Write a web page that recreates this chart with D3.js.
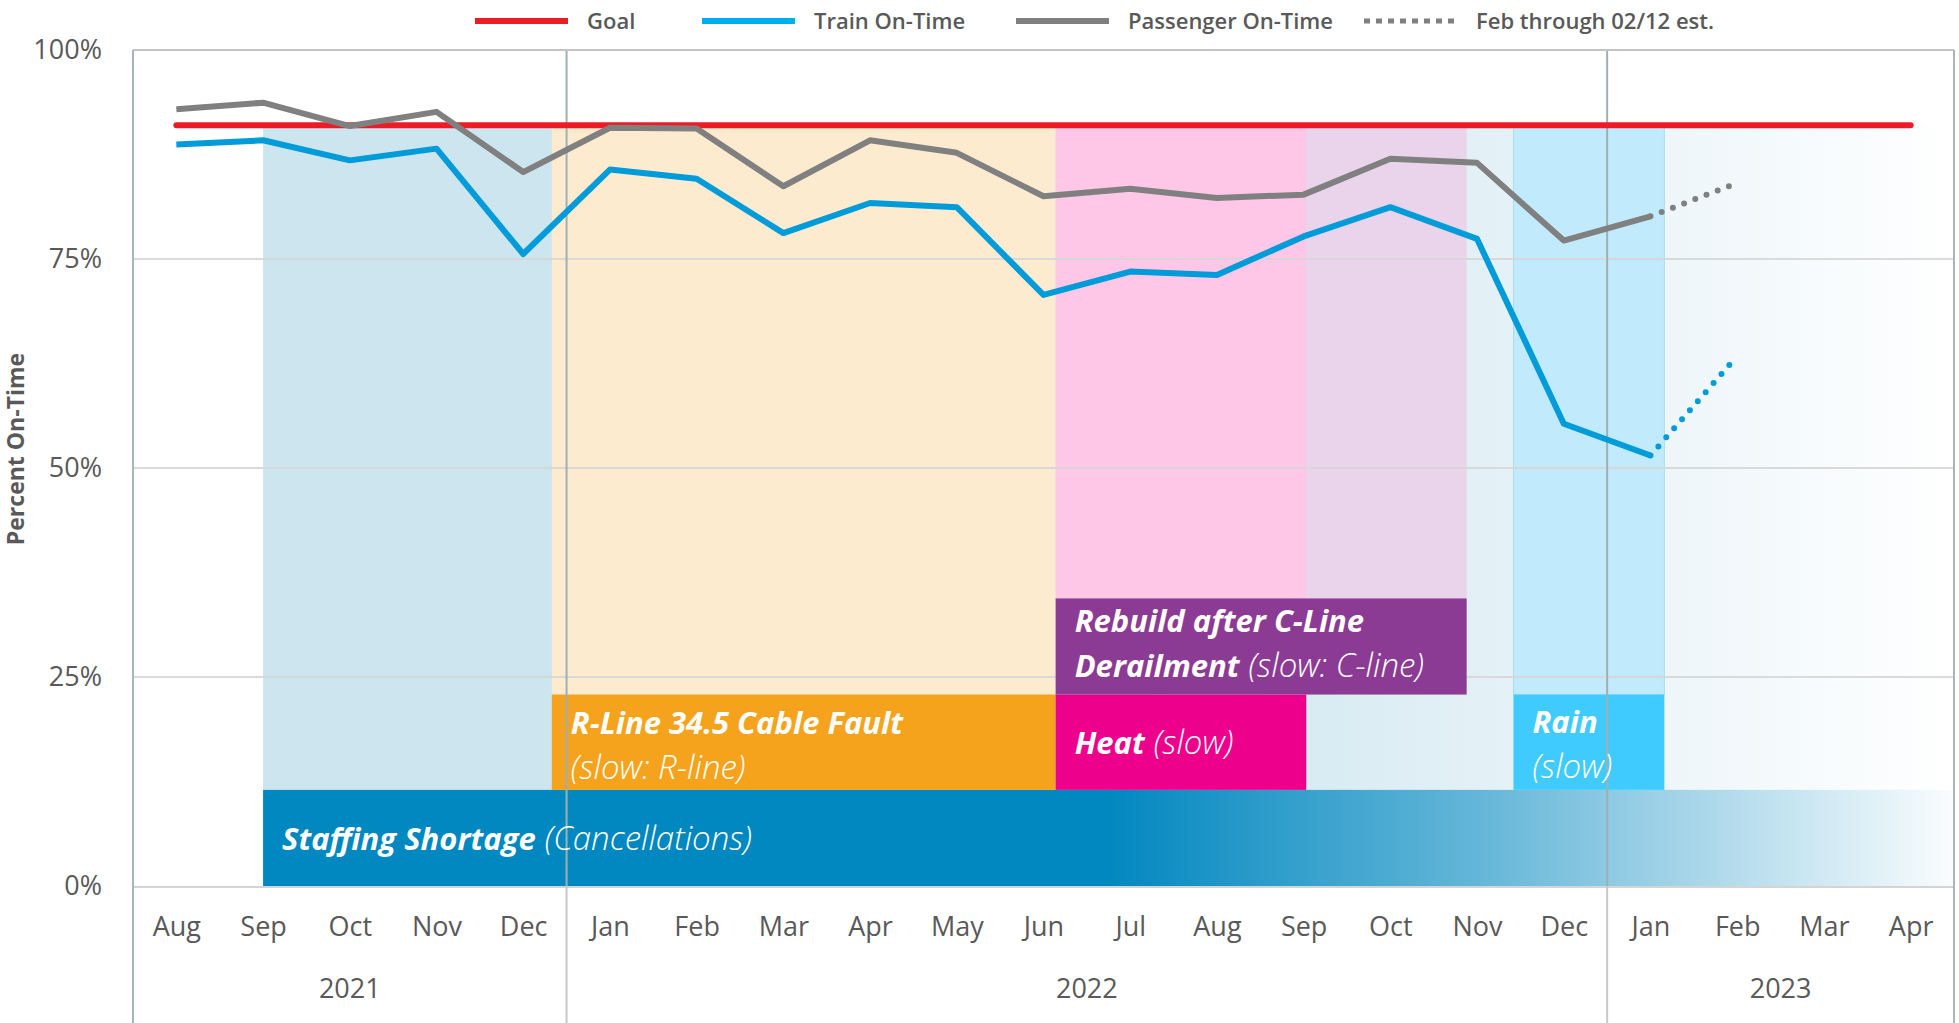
<!DOCTYPE html>
<html>
<head>
<meta charset="utf-8">
<script src="https://cdn.jsdelivr.net/npm/d3@7"></script>
<style>
    body { margin: 0; background: #fff; }
    svg { display: block; font-family: "Open Sans", sans-serif; }
</style>
</head>
<body>
<script>
// categories (Aug 2021 .. Apr 2023)
const months = ['Aug', 'Sep', 'Oct', 'Nov', 'Dec', 'Jan', 'Feb', 'Mar', 'Apr', 'May', 'Jun',
    'Jul', 'Aug', 'Sep', 'Oct', 'Nov', 'Dec', 'Jan', 'Feb', 'Mar', 'Apr'];
const yearLabels = ['2021', '2022', '2023'];
const yearFirst = [0, 5, 17];
const yearLast = [4, 16, 20];

// series, in percent
const goal = 91;
const trainOnTime = [88.7, 89.2, 86.8, 88.2, 75.6, 85.7, 84.6, 78.1, 81.7, 81.2, 70.7,
    73.5, 73.1, 77.7, 81.2, 77.4, 55.3, 51.5];
const passengerOnTime = [92.9, 93.7, 90.9, 92.6, 85.4, 90.7, 90.6, 83.7, 89.2, 87.7, 82.5,
    83.4, 82.3, 82.7, 87.0, 86.5, 77.2, 80.1];
// Feb through 02/12 estimate (index 17 -> 18)
const trainEstimate = [51.5, 63.4];
const passengerEstimate = [80.1, 84.1];
const estimateStart = 17;

const yTicks = [0, 25, 50, 75, 100];
const legendNames = ['Goal', 'Train On-Time', 'Passenger On-Time', 'Feb through 02/12 est.'];

// events: month index span, label box span (percent)
const eventIds = ['staffing', 'rline', 'heat', 'rebuild', 'rain'];
const eventStart = [1.0, 4.33, 10.14, 10.14, 15.42];
const eventEnd = [20.5, 10.14, 13.03, 14.88, 17.16];
const boxLow = [0, 11.5, 11.5, 22.9, 11.5];
const boxHigh = [11.5, 22.9, 22.9, 34.4, 22.9];
const eventLabels = [
    [['Staffing Shortage', '(Cancellations)']],
    [['R-Line 34.5 Cable Fault', ''], ['', '(slow: R-line)']],
    [['Heat', '(slow)']],
    [['Rebuild after C-Line', ''], ['Derailment', '(slow: C-line)']],
    [['Rain', ''], ['', '(slow)']]
];
// light shading regions behind the lines
const shadeIds = ['staffing', 'rline', 'heatShade', 'rebuildShade', 'rain'];
const shadeStart = [1.0, 4.33, 10.14, 13.03, 15.42];
const shadeEnd = [20.5, 10.14, 13.03, 14.88, 17.16];
const shadeLow = [11.5, 22.9, 34.4, 34.4, 22.9];
const shadeHigh = [91, 91, 91, 91, 91];

const width = 1959;
const height = 1023;
const plot = { left: 133, right: 1954, top: 50, bottom: 886 };
const fadeFrom = 10.76;

const boxColor = {
    staffing: 'url(#staffGrad)', rline: '#f5a31c', heat: '#ec008c',
    rebuild: '#8c3b94', rain: '#40cbfe'
};
const shadeColor = {
    staffing: 'url(#staffLight)', rline: '#fdebd0', heatShade: '#fec7e7',
    rebuildShade: '#e9d4ec', rain: '#c1ebfc'
};
const firstBaseline = { rline: 39, rebuild: 34, rain: 38 };

const x = d3.scaleLinear()
    .domain([-0.5, months.length - 0.5])
    .range([plot.left, plot.right]);
const y = d3.scaleLinear()
    .domain([0, 100])
    .range([plot.bottom, plot.top]);

const svg = d3.select('body')
    .append('svg')
    .attr('width', width)
    .attr('height', height);

const defs = svg.append('defs');
const staffGrad = defs.append('linearGradient')
    .attr('id', 'staffGrad')
    .attr('gradientUnits', 'userSpaceOnUse')
    .attr('x1', x(fadeFrom)).attr('x2', x(20.5))
    .attr('y1', 0).attr('y2', 0);
staffGrad.append('stop').attr('offset', 0).attr('stop-color', '#0288c0').attr('stop-opacity', 1);
staffGrad.append('stop').attr('offset', 0.45).attr('stop-color', '#0288c0').attr('stop-opacity', 0.6);
staffGrad.append('stop').attr('offset', 1).attr('stop-color', '#0288c0').attr('stop-opacity', 0.02);
const staffLight = defs.append('linearGradient')
    .attr('id', 'staffLight')
    .attr('gradientUnits', 'userSpaceOnUse')
    .attr('x1', x(fadeFrom)).attr('x2', x(20.5))
    .attr('y1', 0).attr('y2', 0);
staffLight.append('stop').attr('offset', 0).attr('stop-color', '#cde5ef').attr('stop-opacity', 1);
staffLight.append('stop').attr('offset', 1).attr('stop-color', '#cde5ef').attr('stop-opacity', 0);

// shaded regions
svg.append('g')
    .selectAll('rect')
    .data(shadeIds)
    .enter()
    .append('rect')
    .attr('x', (d, i) => x(shadeStart[i]))
    .attr('y', (d, i) => y(shadeHigh[i]))
    .attr('width', (d, i) => x(shadeEnd[i]) - x(shadeStart[i]))
    .attr('height', (d, i) => y(shadeLow[i]) - y(shadeHigh[i]))
    .attr('fill', d => shadeColor[d])
    .attr('stroke', d => d === 'rain' ? '#a9dcef' : 'none')
    .attr('stroke-width', 1);

// gridlines
svg.append('g')
    .selectAll('line')
    .data([25, 50, 75])
    .enter()
    .append('line')
    .attr('x1', plot.left).attr('x2', plot.right)
    .attr('y1', d => y(d)).attr('y2', d => y(d))
    .attr('stroke', '#d6d6d6')
    .attr('stroke-opacity', 0.9)
    .attr('stroke-width', 2);

// year separators and borders
const frame = svg.append('g');
frame.selectAll('line.sep')
    .data(yearFirst.slice(1))
    .enter()
    .append('line')
    .attr('class', 'sep')
    .attr('x1', d => x(d - 0.5)).attr('x2', d => x(d - 0.5))
    .attr('y1', plot.top).attr('y2', plot.bottom)
    .attr('stroke', '#9fb0b2')
    .attr('stroke-width', 2);

// event boxes
svg.append('g')
    .selectAll('rect')
    .data(eventIds)
    .enter()
    .append('rect')
    .attr('x', (d, i) => x(eventStart[i]))
    .attr('y', (d, i) => y(boxHigh[i]))
    .attr('width', (d, i) => x(eventEnd[i]) - x(eventStart[i]))
    .attr('height', (d, i) => y(boxLow[i]) - y(boxHigh[i]))
    .attr('fill', d => boxColor[d]);

// outer frame
frame.raise();
frame.append('line')
    .attr('x1', plot.left).attr('x2', plot.right)
    .attr('y1', plot.top).attr('y2', plot.top)
    .attr('stroke', '#c4c4c4').attr('stroke-width', 2);
frame.append('line')
    .attr('x1', plot.left).attr('x2', plot.right)
    .attr('y1', plot.bottom + 1).attr('y2', plot.bottom + 1)
    .attr('stroke', '#d4d4d4').attr('stroke-width', 2);
frame.selectAll('line.edge')
    .data([plot.left, plot.right])
    .enter()
    .append('line')
    .attr('class', 'edge')
    .attr('x1', d => d).attr('x2', d => d)
    .attr('y1', plot.top).attr('y2', height)
    .attr('stroke', '#a9b5b7').attr('stroke-width', 2);
frame.selectAll('line.group')
    .data(yearFirst.slice(1))
    .enter()
    .append('line')
    .attr('class', 'group')
    .attr('x1', d => x(d - 0.5)).attr('x2', d => x(d - 0.5))
    .attr('y1', plot.bottom).attr('y2', height)
    .attr('stroke', '#c8c8c8').attr('stroke-width', 2);

// goal
svg.append('line')
    .attr('x1', x(0)).attr('x2', x(months.length - 1))
    .attr('y1', y(goal)).attr('y2', y(goal))
    .attr('stroke', '#ed1c24')
    .attr('stroke-width', 6)
    .attr('stroke-linecap', 'round');

const line = d3.line()
    .x((d, i) => x(i))
    .y(d => y(d));
const estLine = d3.line()
    .x((d, i) => x(estimateStart + i))
    .y(d => y(d));

const series = [
    { values: passengerOnTime, est: passengerEstimate, color: '#808080' },
    { values: trainOnTime, est: trainEstimate, color: '#009bd9' }
];
series.forEach(s => {
    svg.append('path')
        .attr('d', line(s.values))
        .attr('fill', 'none')
        .attr('stroke', s.color)
        .attr('stroke-width', 6)
        .attr('stroke-linejoin', 'round');
    svg.append('path')
        .attr('d', estLine(s.est))
        .attr('fill', 'none')
        .attr('stroke', s.color)
        .attr('stroke-width', 6)
        .attr('stroke-linecap', 'round')
        .attr('stroke-dasharray', '0 12')
        .attr('stroke-dashoffset', -12);
});

// event labels: each row is one text, bold part + light part
const labels = svg.append('g')
    .attr('fill', '#fff');
eventIds.forEach((id, i) => {
    const rows = eventLabels[i];
    const top = y(boxHigh[i]);
    const bottom = y(boxLow[i]);
    const first = rows.length === 1 ? (top + bottom) / 2 + 12 : top + firstBaseline[id];
    rows.forEach((row, r) => {
        const t = labels.append('text')
            .attr('x', x(eventStart[i]) + 19)
            .attr('y', first + r * 45);
        if (row[0]) t.append('tspan')
            .attr('font-weight', 700)
            .attr('font-style', 'italic')
            .style('font-size', '31px')
            .text(row[0]);
        if (row[1]) t.append('tspan')
            .attr('dx', row[0] ? 9 : 0)
            .attr('font-weight', 300)
            .attr('font-style', 'italic')
            .style('font-size', '33px')
            .text(row[1]);
    });
});

// x axis: months
const xAxis = d3.axisBottom(x)
    .tickValues(d3.range(months.length))
    .tickFormat(i => months[i])
    .tickSize(0);
const gx = svg.append('g')
    .attr('transform', `translate(0,${plot.bottom})`)
    .call(xAxis);
gx.select('.domain').remove();
gx.selectAll('text')
    .attr('y', 50)
    .attr('dy', 0)
    .attr('fill', '#595959')
    .style('font-size', '27px')
    .style('font-family', '"Open Sans", sans-serif');

svg.append('g')
    .selectAll('text')
    .data(yearLabels)
    .enter()
    .append('text')
    .attr('x', (d, i) => x((yearFirst[i] + yearLast[i]) / 2))
    .attr('y', 998)
    .attr('text-anchor', 'middle')
    .attr('fill', '#595959')
    .style('font-size', '27px')
    .text(d => d);

// y axis
const yAxis = d3.axisLeft(y)
    .tickValues(yTicks)
    .tickFormat(d => d + '%')
    .tickSize(0)
    .tickPadding(31);
const gy = svg.append('g')
    .attr('transform', `translate(${plot.left},0)`)
    .call(yAxis);
gy.select('.domain').remove();
gy.selectAll('text')
    .attr('fill', '#595959')
    .style('font-size', '27px')
    .style('font-family', '"Open Sans", sans-serif');

svg.append('text')
    .attr('transform', 'rotate(-90)')
    .attr('x', -449)
    .attr('y', 24)
    .attr('text-anchor', 'middle')
    .attr('fill', '#595959')
    .attr('font-weight', 700)
    .style('font-size', '23px')
    .text('Percent On-Time');

// legend
const legendX = [475, 702, 1016, 1364];
const legendColors = ['#ed1c24', '#00aeef', '#808080', '#808080'];
const legend = svg.append('g')
    .attr('transform', 'translate(0,21)');
legend.selectAll('line')
    .data(legendNames)
    .enter()
    .append('line')
    .attr('x1', (d, i) => legendX[i])
    .attr('x2', (d, i) => legendX[i] + 93)
    .attr('y1', 0).attr('y2', 0)
    .attr('stroke', (d, i) => legendColors[i])
    .attr('stroke-width', (d, i) => i === 3 ? 5 : 6)
    .attr('stroke-dasharray', (d, i) => i === 3 ? '6 6' : null);
legend.selectAll('text')
    .data(legendNames)
    .enter()
    .append('text')
    .attr('x', (d, i) => legendX[i] + 112)
    .attr('y', 8)
    .attr('fill', '#595959')
    .attr('font-weight', 600)
    .style('font-size', '22px')
    .text(d => d);
</script>
</body>
</html>
